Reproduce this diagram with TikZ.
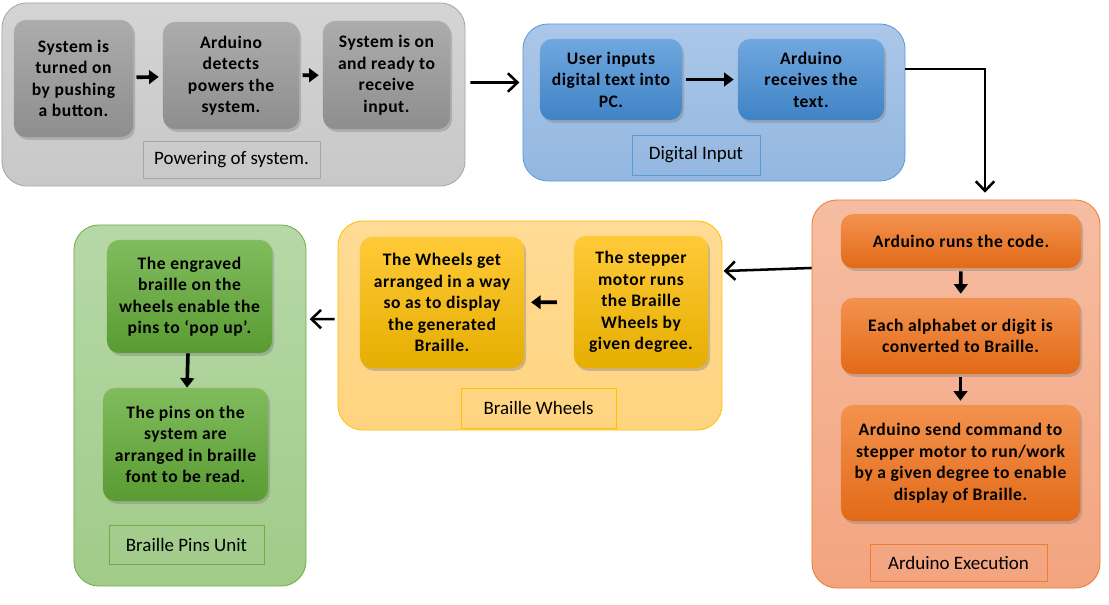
\documentclass[tikz,border=0pt]{standalone}
\usepackage{fontspec}
\setmainfont{Carlito}
\newfontfamily\boxfont[LetterSpace=3]{Carlito}
\usetikzlibrary{arrows.meta,shadows,positioning}
\definecolor{grayout}{HTML}{A6A6A6}
\definecolor{graytop}{HTML}{D4D4D4}
\definecolor{graybot}{HTML}{C8C8C8}
\definecolor{grayin}{HTML}{ACACAC}
\definecolor{grayinb}{HTML}{8E8E8E}
\definecolor{blueout}{HTML}{5B9BD5}
\definecolor{bluetop}{HTML}{ABC7E9}
\definecolor{bluebot}{HTML}{93B7E0}
\definecolor{bluein}{HTML}{70A7DE}
\definecolor{blueinb}{HTML}{3F83C6}
\definecolor{orangeout}{HTML}{ED7D31}
\definecolor{orangetop}{HTML}{F6BDA2}
\definecolor{orangebot}{HTML}{F3A47F}
\definecolor{orangein}{HTML}{F3924F}
\definecolor{orangeinb}{HTML}{E26A17}
\definecolor{yellowout}{HTML}{FFC000}
\definecolor{yellowtop}{HTML}{FFDB95}
\definecolor{yellowbot}{HTML}{FFD47F}
\definecolor{yellowin}{HTML}{FFCA38}
\definecolor{yellowinb}{HTML}{E5AE00}
\definecolor{greenout}{HTML}{70AD47}
\definecolor{greentop}{HTML}{B6D8A7}
\definecolor{greenbot}{HTML}{A1CB89}
\definecolor{greenin}{HTML}{80BC5D}
\definecolor{greeninb}{HTML}{5A9B32}

\begin{document}
\begin{tikzpicture}[x=0.025cm, y=-0.025cm]
              \tikzstyle{stage} = [rectangle, rounded corners=0.625cm, draw, line width=0.6pt]
              \tikzstyle{task} = [rectangle, rounded corners=0.3cm, align=center, font=\boxfont\bfseries\fontsize{12.5}{15.3}\selectfont, drop shadow={opacity=0.4, shadow xshift=0.05cm, shadow yshift=-0.07cm}]
              \tikzstyle{tag} = [rectangle, draw, line width=0.6pt, font=\fontsize{13.5}{16}\selectfont]
              \tikzstyle{flow} = [-{Triangle[length=2.4mm,width=3.4mm]}, line width=2.6pt, shorten <=0.08cm, shorten >=0.1cm]
              \tikzstyle{link} = [-{Straight Barb[length=2.4mm,width=4.6mm]}, line width=1.8pt]
              \useasboundingbox (0,0) rectangle (1109,604);
              \node (pow) [stage, draw=grayout, top color=graytop, bottom color=graybot, minimum width=11.575cm, minimum height=4.575cm] at (233.5,94.5) {};
              \node (dig) [stage, draw=blueout, top color=bluetop, bottom color=bluebot, minimum width=9.55cm, minimum height=3.925cm] at (714,102.5) {};
              \node (exe) [stage, draw=orangeout, top color=orangetop, bottom color=orangebot, minimum width=7.2cm, minimum height=9.7cm] at (956,394) {};
              \node (whl) [stage, draw=yellowout, top color=yellowtop, bottom color=yellowbot, minimum width=9.6cm, minimum height=5.225cm] at (530,325.5) {};
              \node (pin) [stage, draw=greenout, top color=greentop, bottom color=greenbot, minimum width=5.8cm, minimum height=9.025cm] at (190,405.5) {};
              \node (p1) [task, top color=grayin, bottom color=grayinb, minimum width=2.975cm, minimum height=2.925cm] at (73.5,78.5) {System is\\turned on\\by pushing\\a button.};
              \node (p2) [task, top color=grayin, bottom color=grayinb, minimum width=3.4cm, minimum height=2.675cm] at (231,75.5) {Arduino\\detects\\powers the\\system.};
              \node (p3) [task, top color=grayin, bottom color=grayinb, minimum width=3.175cm, minimum height=2.7cm] at (386.5,75) {System is on\\and ready to\\receive\\input.};
              \node (powtag) [tag, draw=grayout, minimum width=4.425cm, minimum height=0.925cm] at (231.5,159.5) {Powering of system.};
              \node (d1) [task, top color=bluein, bottom color=blueinb, minimum width=3.55cm, minimum height=2.025cm] at (611,79.5) {User inputs\\digital text into\\PC.};
              \node (d2) [task, top color=bluein, bottom color=blueinb, minimum width=3.65cm, minimum height=2.025cm] at (811,79.5) {Arduino\\receives the\\text.};
              \node (digtag) [tag, draw=blueout, minimum width=3.2cm, minimum height=1cm] at (696,155) {Digital Input};
              \node (e1) [task, top color=orangein, bottom color=orangeinb, minimum width=6cm, minimum height=1.35cm] at (961,241) {Arduino runs the code.};
              \node (e2) [task, top color=orangein, bottom color=orangeinb, minimum width=5.975cm, minimum height=1.9cm] at (960.5,336) {Each alphabet or digit is\\converted to Braille.};
              \node (e3) [task, top color=orangein, bottom color=orangeinb, minimum width=5.975cm, minimum height=2.9cm] at (960.5,463) {Arduino send command to\\stepper motor to run/work\\by a given degree to enable\\display of Braille.};
              \node (exetag) [tag, draw=orangeout, minimum width=4.425cm, minimum height=0.925cm] at (958.5,562.5) {Arduino Execution};
              \node (w1) [task, top color=yellowin, bottom color=yellowinb, minimum width=4.1cm, minimum height=3.275cm] at (442,302.5) {The Wheels get\\arranged in a way\\so as to display\\the generated\\Braille.};
              \node (w2) [task, top color=yellowin, bottom color=yellowinb, minimum width=3.35cm, minimum height=3.3cm] at (641,302) {The stepper\\motor runs\\the Braille\\Wheels by\\given degree.};
              \node (whltag) [tag, draw=yellowout, minimum width=3.875cm, minimum height=1cm] at (538.5,408) {Braille Wheels};
              \node (b1) [task, top color=greenin, bottom color=greeninb, minimum width=4.125cm, minimum height=2.825cm] at (189.5,296.5) {The engraved\\braille on the\\wheels enable the\\pins to ‘pop up’.};
              \node (b2) [task, top color=greenin, bottom color=greeninb, minimum width=4.125cm, minimum height=2.825cm] at (185.5,444.5) {The pins on the\\system are\\arranged in braille\\font to be read.};
              \node (pintag) [tag, draw=greenout, minimum width=3.875cm, minimum height=0.975cm] at (186.5,544.5) {Braille Pins Unit};
              \draw[flow] (p1) -- (p2);
              \draw[flow] (p2) -- (p3);
              \draw[flow] (d1) -- (d2);
              \draw[flow] (e1) -- (e2);
              \draw[flow] (e2) -- (e3);
              \draw[flow, shorten <=0.42cm, shorten >=0.17cm] (w2) -- (w1);
              \draw[flow, shorten <=0cm, shorten >=0cm] (b1) -- (b2);
              \draw[link, shorten <=0.12cm, shorten >=0.08cm] ([yshift=0.3cm]pow.east) -- ([yshift=0.5cm]dig.west);
              \draw[link, shorten >=0.17cm] ([yshift=0.84cm]dig.east) -| ([xshift=0.725cm]exe.north);
              \draw[link, shorten >=0.03cm] ([yshift=3.15cm]exe.west) -- ([yshift=1.36cm]whl.east);
              \draw[link, shorten <=0.07cm, shorten >=0.08cm] ([yshift=0.16cm]whl.west) -- ([yshift=2.16cm]pin.east);
            \end{tikzpicture}
\end{document}
